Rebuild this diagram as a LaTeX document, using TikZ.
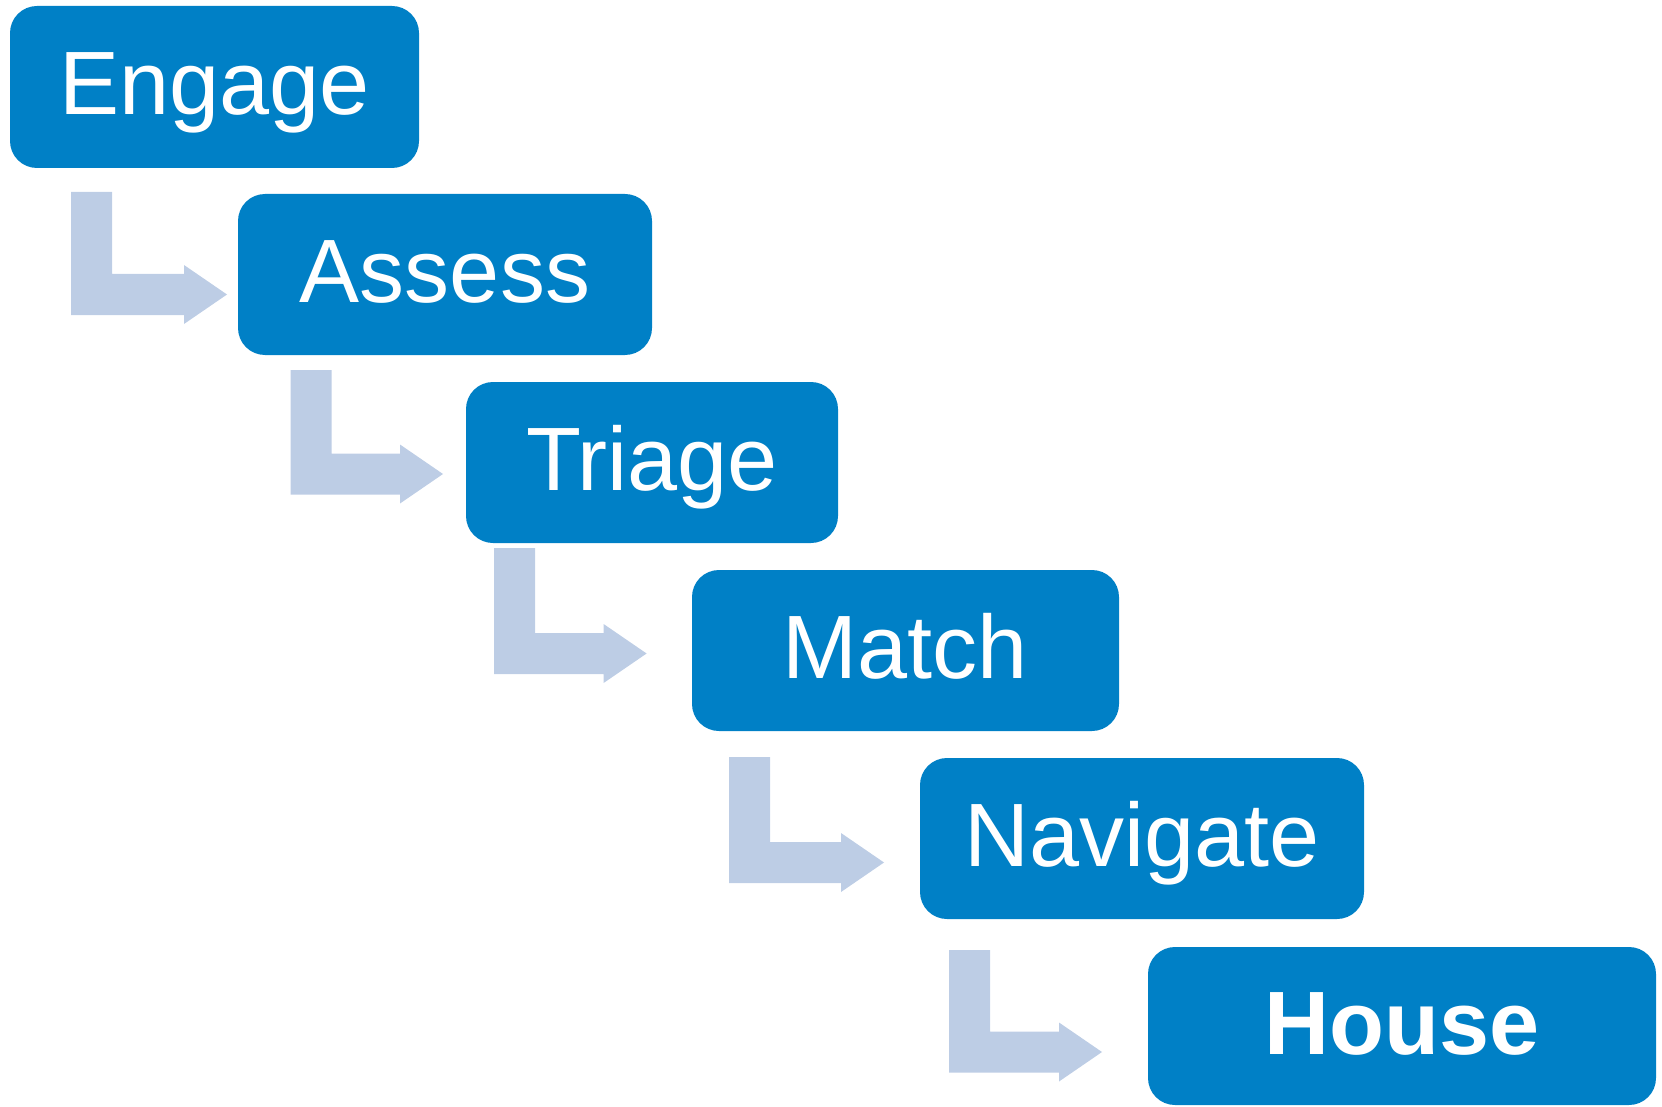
\documentclass[tikz,border=0pt]{standalone}
\usepackage{fontspec}
\setmainfont{Liberation Sans}
\definecolor{boxblue}{RGB}{0,128,198}
\definecolor{arrowblue}{RGB}{189,205,229}
\newcommand\elbowarrow[4]{%
  \fill[arrowblue] (#1,#2) -- ({#1+41},#2) -- ({#1+41},{#3-20.5}) -- ({#4-43},{#3-20.5})
    -- ({#4-43},{#3-29.5}) -- (#4,#3) -- ({#4-43},{#3+29.5}) -- ({#4-43},{#3+20.5})
    -- (#1,{#3+20.5}) -- cycle;}
\begin{document}
\begin{tikzpicture}[x=1pt,y=-1pt,
  stepbox/.style={rectangle, rounded corners=27pt, fill=boxblue, text=white,
    inner sep=0pt, text height=60pt, text depth=4pt,
    font=\fontsize{90}{100}\selectfont}]
\useasboundingbox (0,0) rectangle (1662,1107);
\node[stepbox, minimum width=409pt, minimum height=162pt] (engage) at (214.5,87) {Engage};
\node[stepbox, minimum width=414pt, minimum height=161pt] (assess) at (445,274.5) {Assess};
\node[stepbox, minimum width=372pt, minimum height=161pt] (triage) at (652,462.5) {Triage};
\node[stepbox, minimum width=427pt, minimum height=161pt] (match) at (905.5,650.5) {Match};
\node[stepbox, minimum width=444pt, minimum height=161pt] (navigate) at (1142,838.5) {Navigate};
\node[stepbox, minimum width=508pt, minimum height=158pt, font=\fontsize{90}{100}\selectfont\bfseries] (house) at (1402,1026) {House};
\elbowarrow{71}{192}{294.5}{227}
\elbowarrow{290.5}{370}{474}{443}
\elbowarrow{494}{548}{653.5}{646.6}
\elbowarrow{729}{757}{862.5}{884}
\elbowarrow{949}{950}{1052}{1102}
\end{tikzpicture}
\end{document}
